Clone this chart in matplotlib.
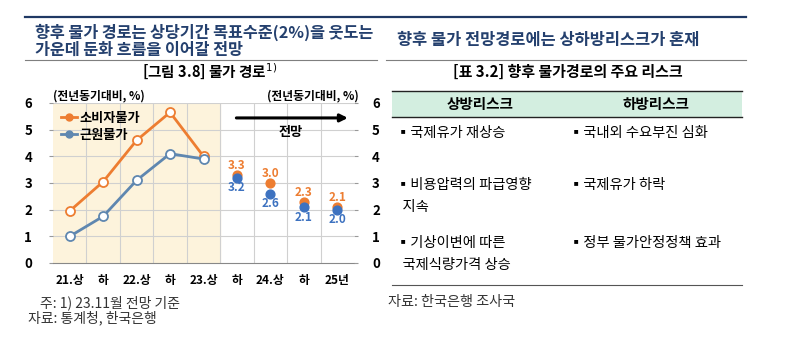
import matplotlib.pyplot as plt
from matplotlib.lines import Line2D
from matplotlib.patches import Rectangle

plt.rcParams['font.family'] = ['Noto Sans CJK KR', 'DejaVu Sans']

W, H = 800, 352

# chart data
periods = ['21.상', '하', '22.상', '하', '23.상', '하', '24.상', '하', '25년']
cpi_actual = [1.95, 3.05, 4.6, 5.65, 4.0]
core_actual = [1.0, 1.75, 3.1, 4.1, 3.9]
cpi_fcst = [3.3, 3.0, 2.3, 2.1]
core_fcst = [3.2, 2.6, 2.1, 2.0]
fcst_pos = [5, 6, 7, 8]

# table data
up_risks = ['▪국제유가 재상승', '▪비용압력의 파급영향\n  지속', '▪기상이변에 따른\n  국제식량가격 상승']
down_risks = ['▪국내외 수요부진 심화', '▪국제유가 하락', '▪정부 물가안정정책 효과']

ORANGE = '#ed7d31'
BLUE_LINE = '#5f87b0'
BLUE_DOT = '#3d72c0'
NAVY = '#1f3864'
TITLE = '#24406e'


def box(l, t, r, b):
    return [l / W, 1 - b / H, (r - l) / W, (b - t) / H]


fig = plt.figure(figsize=(8, 3.52), dpi=100)

# overlay in pixel coords for titles, table, notes
ov = fig.add_axes([0, 0, 1, 1])
ov.set_xlim(0, W)
ov.set_ylim(H, 0)
ov.axis('off')

ov.plot([25, 746], [17, 17], color=NAVY, lw=1.6)
ov.plot([25, 377], [60, 60], color='#7f7f7f', lw=0.8)
ov.plot([386, 746], [60, 60], color='#7f7f7f', lw=0.8)

ov.text(35, 32, '향후 물가 경로는 상당기간 목표수준(2%)을 웃도는', color=TITLE,
        fontsize=11.7, fontweight='bold', va='center')
ov.text(35, 50, '가운데 둔화 흐름을 이어갈 전망', color=TITLE,
        fontsize=11.7, fontweight='bold', va='center')
ov.text(210, 72, '[그림 3.8] 물가 경로$^{1)}$', fontsize=10.5, fontweight='bold',
        ha='center', va='center')

ov.text(397, 40, '향후 물가 전망경로에는 상하방리스크가 혼재', color=TITLE,
        fontsize=11.8, fontweight='bold', va='center')
ov.text(568, 72, '[표 3.2] 향후 물가경로의 주요 리스크', fontsize=10.8,
        fontweight='bold', ha='center', va='center')

# table
ov.add_patch(Rectangle((392, 91), 350, 26, facecolor='#d3eee0', edgecolor='none'))
ov.plot([392, 742], [91, 91], color='#222222', lw=1.0)
ov.plot([392, 742], [117, 117], color='#222222', lw=1.0)
ov.plot([392, 742], [285, 285], color='#555555', lw=0.8)
ov.text(480, 104, '상방리스크', fontsize=10.5, fontweight='bold', ha='center', va='center')
ov.text(656, 104, '하방리스크', fontsize=10.5, fontweight='bold', ha='center', va='center')
row_y = [126, 178, 236]
for y, u, d in zip(row_y, up_risks, down_risks):
    ov.text(396, y, u, fontsize=10.3, va='top', linespacing=1.75)
    ov.text(569, y, d, fontsize=10.3, va='top', linespacing=1.75)
ov.text(388, 302, '자료: 한국은행 조사국', fontsize=10.2, color='#333333', va='center')

ov.text(40, 303, '주: 1) 23.11월 전망 기준', fontsize=10, color='#333333', va='center')
ov.text(28, 318, '자료: 통계청, 한국은행', fontsize=10, color='#333333', va='center')

# chart
ax = fig.add_axes(box(53, 103, 354, 263))
x = list(range(len(periods)))
ax.set_xlim(-0.5, 8.5)
ax.set_ylim(0, 6)
ax.axvspan(-0.5, 4.5, color='#fdf3dc', zorder=0)
for v in range(1, 7):
    ax.axhline(v, color='#d0d0d0', lw=0.8, zorder=1)
for b in [0.5 + i for i in range(8)]:
    ax.axvline(b, color='#d0d0d0', lw=0.8, zorder=1)

ax.plot(x[:5], cpi_actual, color=ORANGE, lw=2, marker='o', ms=6.5,
        mfc='white', mec=ORANGE, mew=1.3, zorder=3)
ax.plot(x[:5], core_actual, color=BLUE_LINE, lw=2, marker='o', ms=6.5,
        mfc='white', mec=BLUE_LINE, mew=1.3, zorder=3)
ax.scatter(fcst_pos, cpi_fcst, s=40, color=ORANGE, zorder=4)
ax.scatter(fcst_pos, core_fcst, s=40, color=BLUE_DOT, zorder=5)
for p, c, k in zip(fcst_pos, cpi_fcst, core_fcst):
    ax.text(p, c + 0.34, f'{c:.1f}', color=ORANGE, fontsize=8.5, fontweight='bold',
            ha='center', va='center', zorder=6)
    ax.text(p, k - 0.38, f'{k:.1f}', color=BLUE_DOT, fontsize=8.5, fontweight='bold',
            ha='center', va='center', zorder=6)

ax.annotate('', xy=(8.4, 5.44), xytext=(4.9, 5.44),
            arrowprops=dict(arrowstyle='-|>', color='black', lw=2.2, mutation_scale=11))
ax.text(6.6, 4.9, '전망', fontsize=9.5, fontweight='bold', ha='center', va='center')

handles = [Line2D([], [], color=ORANGE, lw=2, marker='o', ms=5),
           Line2D([], [], color=BLUE_LINE, lw=2, marker='o', ms=5)]
ax.legend(handles, ['소비자물가', '근원물가'], loc='upper left', frameon=False,
          prop={'weight': 'bold', 'size': 9.5}, handlelength=1.2, handletextpad=0.2,
          borderaxespad=0.2, labelspacing=0.2, bbox_to_anchor=(0.0, 1.0))

ax.set_xticks(x)
ax.set_xticklabels(periods, fontsize=8.5, fontweight='bold')
ax.set_yticks(range(7))
ax.set_yticklabels([str(v) for v in range(7)], fontsize=9.5, fontweight='bold')
ax.tick_params(axis='x', length=0, pad=8)
ax.tick_params(axis='y', length=3, color='#999999', pad=12)
for s in ['top', 'left', 'right']:
    ax.spines[s].set_visible(False)
ax.spines['bottom'].set_color('#888888')

ax2 = ax.twinx()
ax2.set_ylim(0, 6)
ax2.set_yticks(range(7))
ax2.set_yticklabels([str(v) for v in range(7)], fontsize=9.5, fontweight='bold')
ax2.tick_params(axis='y', length=3, color='#999999', pad=10)
for s in ['top', 'left', 'right', 'bottom']:
    ax2.spines[s].set_visible(False)

ov.text(53, 96, '(전년동기대비, %)', fontsize=8.5, fontweight='bold', va='center')
ov.text(359, 96, '(전년동기대비, %)', fontsize=8.5, fontweight='bold', va='center', ha='right')

fig.savefig('out.png', dpi=100)
